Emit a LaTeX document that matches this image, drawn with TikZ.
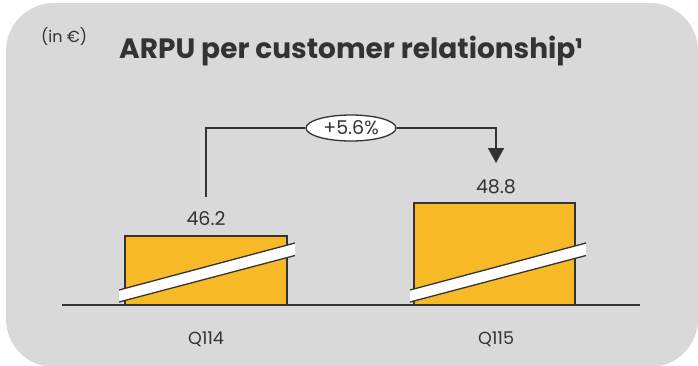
\documentclass[tikz,border=0pt]{standalone}
\usepackage{fontspec}
\setmainfont{Poppins}
\definecolor{bggray}{HTML}{D9D9D9}
\definecolor{baryel}{HTML}{F8B926}
\definecolor{ink}{HTML}{333333}
\tikzset{
  barbox/.style={draw=ink, line width=1.3pt, fill=baryel},
  brk/.style={fill=white, draw=none},
  brkedge/.style={draw=ink, line width=1.3pt},
  vallabel/.style={text=ink, font=\fontsize{19}{19}\selectfont, inner sep=0pt},
  catlabel/.style={text=ink, font=\fontsize{17.5}{18}\selectfont, inner sep=0pt},
  conn/.style={draw=ink, line width=1.6pt},
  pill/.style={ellipse, draw=ink, line width=1.3pt, fill=white, minimum width=90pt, minimum height=26pt, inner sep=0pt, text=ink, font=\fontsize{19}{19}\selectfont},
}
\usetikzlibrary{shapes.geometric, arrows.meta}
\begin{document}
\begin{tikzpicture}[x=1pt, y=-1pt]
\useasboundingbox (0,0) rectangle (698,365);
\fill[white] (0,0) rectangle (698,365);
\fill[bggray, rounded corners=48pt] (6,3) rectangle (698,367);

% title
\node[anchor=west, text=ink, inner sep=0pt, font=\fontsize{16}{16}\selectfont] (unit) at (41,37) {(in €)};
\node[anchor=base west, text=ink, inner sep=0pt, font=\fontsize{28}{28}\selectfont\bfseries] (title) at (119,58) {ARPU per customer relationship¹};

% bars
\draw[barbox] (125,236) rectangle (287,305);
\draw[barbox] (414,203) rectangle (575,305);

% breaks
\foreach \xl/\xr in {119/295, 410/586}{
  \fill[brk] (\xl,290) -- (\xr,243) -- (\xr,255.5) -- (\xl,302) -- cycle;
  \draw[brkedge] (\xl,290) -- (\xr,243);
  \draw[brkedge] (\xl,302) -- (\xr,255.5);
}

% baseline
\draw[draw=ink, line width=1.3pt] (62,305) -- (640,305);

% value labels
\node[vallabel, anchor=base] (v1) at (206,225) {46.2};
\node[vallabel, anchor=base] (v2) at (496,193.5) {48.8};

% category labels
\node[catlabel, anchor=base] (c1) at (206,344) {Q114};
\node[catlabel, anchor=base] (c2) at (496,344) {Q115};

% growth connector
\coordinate (s1) at (206,197);
\coordinate (s2) at (496,163);
\node[pill] (g) at (351,128) {+5.6\%};
\draw[conn] (s1) |- (g.west);
\draw[conn, -{Triangle[length=15pt, width=16pt]}] (g.east) -| (s2);
\end{tikzpicture}
\end{document}
